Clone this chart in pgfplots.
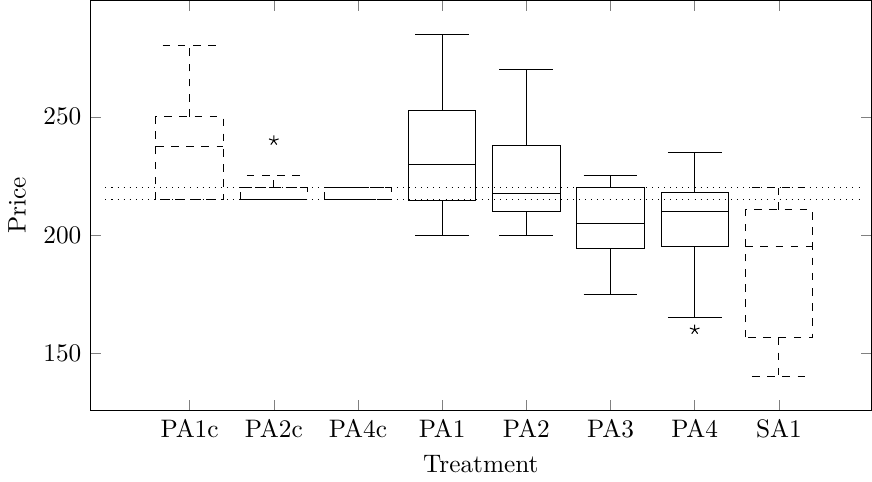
\documentclass[border=0pt]{standalone}
\usepackage{pgfplots}
\pgfplotsset{compat=1.18}
\usepgfplotslibrary{statistics}

\begin{document}
\begin{tikzpicture}
  \begin{axis}[
      scale only axis,
      width=308.7pt,
      height=162pt,
      xmin=-0.18, xmax=9.1,
      ymin=125.8, ymax=299.2,
      xtick={1,2,3,4,5,6,7,8},
      xticklabels={PA1c,PA2c,PA4c,PA1,PA2,PA3,PA4,SA1},
      ytick={150,200,250},
      xlabel={Treatment},
      ylabel={Price},
      boxplot/draw direction=y,
      every boxplot/.style={black},
    ]
    % reference prices
    \addplot[black, dotted, no marks] coordinates {(0,215)(9,215)};
    \addplot[black, dotted, no marks] coordinates {(0,220)(9,220)};

    % control treatments (dashed)
    \addplot[black, dashed, boxplot prepared={draw position=1,
        lower whisker=215, lower quartile=215, median=237.5,
        upper quartile=250, upper whisker=280}] coordinates {};
    \addplot[black, dashed, mark=star, mark options={solid},
      boxplot prepared={draw position=2,
        lower whisker=215, lower quartile=215, median=220,
        upper quartile=220, upper whisker=225}] coordinates {(0,240)};
    \addplot[black, dashed, boxplot prepared={draw position=3,
        lower whisker=215, lower quartile=215, median=220,
        upper quartile=220, upper whisker=220}] coordinates {};

    % treatments (solid)
    \addplot[black, boxplot prepared={draw position=4,
        lower whisker=200, lower quartile=214.5, median=230,
        upper quartile=252.7, upper whisker=285}] coordinates {};
    \addplot[black, boxplot prepared={draw position=5,
        lower whisker=200, lower quartile=210, median=217.5,
        upper quartile=237.7, upper whisker=270}] coordinates {};
    \addplot[black, boxplot prepared={draw position=6,
        lower whisker=175, lower quartile=194.5, median=205,
        upper quartile=220, upper whisker=225}] coordinates {};
    \addplot[black, mark=star, boxplot prepared={draw position=7,
        lower whisker=165, lower quartile=195, median=210,
        upper quartile=217.8, upper whisker=235}] coordinates {(0,160)};

    % SA1 (dashed)
    \addplot[black, dashed, boxplot prepared={draw position=8,
        lower whisker=140, lower quartile=156.7, median=195,
        upper quartile=210.7, upper whisker=220}] coordinates {};
  \end{axis}
\end{tikzpicture}
\end{document}
